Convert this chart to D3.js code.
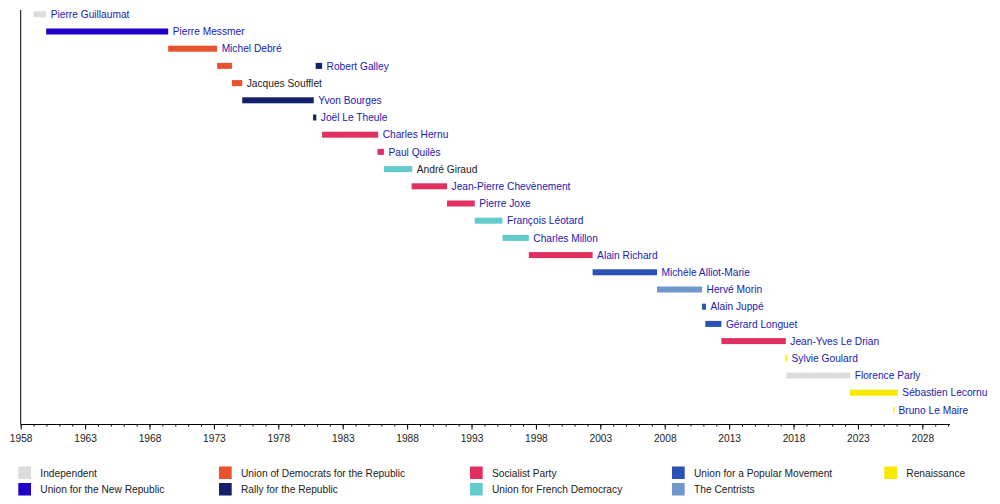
<!DOCTYPE html>
<html>
<head>
<meta charset="utf-8">
<script src="https://cdn.jsdelivr.net/npm/d3@7"></script>
<style>
html,body{margin:0;padding:0;background:#fff;}
svg{display:block;font-family:"Liberation Sans",Arial,sans-serif;}
</style>
</head>
<body>
<svg id="chart" width="1000" height="504"></svg>
<script>
// ---- data ----
const ministers = ["Pierre Guillaumat","Pierre Messmer","Michel Debré","Robert Galley","Jacques Soufflet",
  "Yvon Bourges","Joël Le Theule","Charles Hernu","Paul Quilès","André Giraud","Jean-Pierre Chevènement",
  "Pierre Joxe","François Léotard","Charles Millon","Alain Richard","Michèle Alliot-Marie","Hervé Morin",
  "Alain Juppé","Gérard Longuet","Jean-Yves Le Drian","Sylvie Goulard","Florence Parly","Sébastien Lecornu","Bruno Le Maire"];
const linked = [true,true,true,true,false,true,true,true,true,false,true,true,true,true,true,true,true,true,true,true,true,true,true,true];

const termMinister = ["Pierre Guillaumat","Pierre Messmer","Michel Debré","Robert Galley","Robert Galley","Jacques Soufflet",
  "Yvon Bourges","Joël Le Theule","Charles Hernu","Paul Quilès","André Giraud","Jean-Pierre Chevènement",
  "Pierre Joxe","François Léotard","Charles Millon","Alain Richard","Michèle Alliot-Marie","Hervé Morin",
  "Alain Juppé","Gérard Longuet","Jean-Yves Le Drian","Sylvie Goulard","Florence Parly","Sébastien Lecornu","Bruno Le Maire"];
const termStart = [1959.0,1959.98,1969.45,1973.25,1980.9,1974.4,1975.2,1980.7,1981.4,1985.7,1986.2,1988.35,
  1991.1,1993.25,1995.4,1997.45,2002.4,2007.4,2010.9,2011.15,2012.4,2017.38,2017.45,2022.38,2025.75];
const termEnd = [1959.98,1969.45,1973.25,1974.4,1981.4,1975.2,1980.75,1980.95,1985.75,1986.2,1988.4,1991.1,
  1993.25,1995.4,1997.45,2002.4,2007.4,2010.9,2011.2,2012.4,2017.4,2017.5,2022.4,2026.1,2025.8];
const termParty = ["Independent","Union for the New Republic","Union of Democrats for the Republic",
  "Union of Democrats for the Republic","Rally for the Republic","Union of Democrats for the Republic",
  "Rally for the Republic","Rally for the Republic","Socialist Party","Socialist Party","Union for French Democracy",
  "Socialist Party","Socialist Party","Union for French Democracy","Union for French Democracy","Socialist Party",
  "Union for a Popular Movement","The Centrists","Union for a Popular Movement","Union for a Popular Movement",
  "Socialist Party","Renaissance","Independent","Renaissance","Renaissance"];

const parties = ["Independent","Union for the New Republic","Union of Democrats for the Republic","Rally for the Republic",
  "Socialist Party","Union for French Democracy","Union for a Popular Movement","The Centrists","Renaissance"];
const partyColors = ["#dcdcdc","#2000c8","#e8522f","#13216b","#e0305f","#62cbcb","#2b52b3","#7097cc","#f5ea00"];

const axisStart = 1958, axisEnd = 2030;
const majorTicks = d3.range(1958, 2031, 5);
const minorTicks = d3.range(1958, 2031, 1);

// ---- layout ----
const svg = d3.select("#chart");
const x = d3.scaleLinear().domain([axisStart, axisEnd]).range([20.7, 948.1]);
const y = d3.scaleBand().domain(ministers).range([5.7, 418.5]);
const color = d3.scaleOrdinal().domain(parties).range(partyColors);
const barH = 6;
const axisY = 424.5;

// bars
const terms = termMinister.map((m,i)=>({m, s:termStart[i], e:termEnd[i], p:termParty[i]}));
svg.append("g").selectAll("rect").data(terms).join("rect")
  .attr("x", d=>x(d.s))
  .attr("y", d=>y(d.m)+y.bandwidth()/2-barH/2)
  .attr("width", d=>Math.max(1.2, x(d.e)-x(d.s)))
  .attr("height", barH)
  .attr("fill", d=>color(d.p));

// labels
const lastEnd = ministers.map(m=>d3.max(terms.filter(t=>t.m===m), t=>t.e));
svg.append("g").selectAll("text").data(ministers).join("text")
  .attr("x", (d,i)=>x(lastEnd[i])+4.5)
  .attr("y", d=>y(d)+y.bandwidth()/2+3.6)
  .attr("font-size", 10.2)
  .attr("fill", (d,i)=>linked[i] ? "#2020b4" : "#222")
  .text(d=>d);

// vertical axis line
svg.append("line").attr("x1",20.7).attr("x2",20.7).attr("y1",10).attr("y2",axisY)
  .attr("stroke","#000").attr("stroke-width",1);

// x axis
const gx = svg.append("g").attr("transform",`translate(0,${axisY})`);
gx.append("line").attr("x1",20.7).attr("x2",950).attr("stroke","#000");
gx.append("g").call(d3.axisBottom(x).tickValues(minorTicks).tickSize(2).tickFormat(""))
  .call(g=>g.select(".domain").remove());
const maj = gx.append("g").call(d3.axisBottom(x).tickValues(majorTicks).tickSize(5).tickFormat(d3.format("d")).tickPadding(5.5))
  .call(g=>g.select(".domain").remove());
maj.selectAll("text").attr("font-size",10.2).attr("fill","#222").attr("font-family",'"Liberation Sans",Arial,sans-serif');
gx.selectAll(".tick line").attr("stroke","#000");

// legend
const legendCols = [18.3, 219, 470, 672, 884.3];
const legendRows = [466.5, 483];
const lg = svg.append("g").selectAll("g").data(parties).join("g")
  .attr("transform",(d,i)=>{
    const col = [0,0,1,1,2,2,3,3,4][i];
    const row = [0,1,0,1,0,1,0,1,0][i];
    return `translate(${legendCols[col]},${legendRows[row]})`;
  });
lg.append("rect").attr("width",12.7).attr("height",12.5).attr("fill",d=>color(d));
lg.append("text").attr("x",22).attr("y",10.4).attr("font-size",10.2).attr("fill","#222").text(d=>d);
</script>
</body>
</html>
